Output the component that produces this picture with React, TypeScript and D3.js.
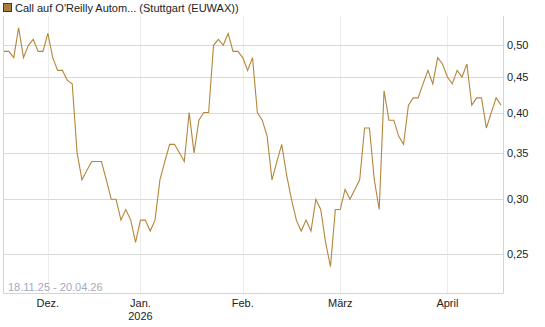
import React, { useEffect, useRef } from 'react';
import * as d3 from 'd3';

const title = "Call auf O'Reilly Autom... (Stuttgart (EUWAX))";
const rangeLabel = '18.11.25 - 20.04.26';

// closing prices per trading day, split by month
const novValues = [0.49, 0.49, 0.48, 0.53, 0.48, 0.5, 0.51, 0.49, 0.49];
const decValues = [0.52, 0.48, 0.46, 0.46, 0.445, 0.44, 0.35, 0.32, 0.33, 0.34, 0.34, 0.34, 0.32, 0.3, 0.3, 0.28, 0.29, 0.28, 0.26];
const janValues = [0.28, 0.28, 0.27, 0.28, 0.32, 0.34, 0.36, 0.36, 0.35, 0.34, 0.4, 0.35, 0.39, 0.4, 0.4, 0.5, 0.51, 0.5, 0.52, 0.49, 0.49];
const febValues = [0.48, 0.46, 0.48, 0.4, 0.39, 0.37, 0.32, 0.34, 0.36, 0.325, 0.3, 0.28, 0.27, 0.28, 0.27, 0.3, 0.29, 0.26, 0.24, 0.29];
const marValues = [0.29, 0.31, 0.3, 0.31, 0.32, 0.38, 0.38, 0.32, 0.29, 0.43, 0.39, 0.39, 0.37, 0.36, 0.41, 0.42, 0.42, 0.44, 0.46, 0.44, 0.48, 0.47];
const aprValues = [0.45, 0.44, 0.46, 0.45, 0.47, 0.41, 0.42, 0.42, 0.38, 0.4, 0.42, 0.41];

const startDate = '2025-11-18';
const endDate = '2026-04-20';
const holidays = ['2025-12-24', '2025-12-25', '2025-12-26', '2025-12-31', '2026-01-01', '2026-04-03', '2026-04-06'];

const monthLabels = ['Dez.', 'Jan.', 'Feb.', 'März', 'April'];
const monthSubLabels = ['', '2026', '', '', ''];
const yTicks = [0.25, 0.3, 0.35, 0.4, 0.45, 0.5];

const W = 545;
const H = 327;
const FONT = '"Liberation Sans", Arial, sans-serif';

const App: React.FC = () => {
  const svgRef = useRef<SVGSVGElement>(null);

  useEffect(() => {
    if (!svgRef.current) return;
    const svg = d3.select(svgRef.current);
    svg.selectAll('*').remove();

    const values = [...novValues, ...decValues, ...janValues, ...febValues, ...marValues, ...aprValues];
    const fmt = d3.timeFormat('%Y-%m-%d');
    const dates = d3.timeDay
      .range(new Date(startDate + 'T00:00:00'), d3.timeDay.offset(new Date(endDate + 'T00:00:00'), 1))
      .filter(d => d.getDay() !== 0 && d.getDay() !== 6 && !holidays.includes(fmt(d)));
    const data = values.map((v, i) => ({ date: dates[i], value: v }));

    const left = 3;
    const right = 503;
    const top = 16;
    const bottom = 293.5;

    const x = d3.scaleLinear().domain([0, data.length - 1]).range([4, 501]);
    const y = d3.scaleLog().domain([0.2195, 0.551]).range([bottom, top]);

    // first trading day index of each month (Dec..Apr)
    const monthStarts: number[] = [];
    data.forEach((d, i) => {
      if (i > 0 && d.date.getMonth() !== data[i - 1].date.getMonth()) monthStarts.push(i);
    });

    // vertical month grid
    svg.append('g')
      .selectAll('line')
      .data(monthStarts)
      .enter()
      .append('line')
      .attr('x1', d => Math.round(x(d)) + 0.5)
      .attr('x2', d => Math.round(x(d)) + 0.5)
      .attr('y1', top)
      .attr('y2', bottom)
      .attr('stroke', '#ececec');

    // horizontal grid
    svg.append('g')
      .selectAll('line')
      .data(yTicks)
      .enter()
      .append('line')
      .attr('x1', left)
      .attr('x2', right)
      .attr('y1', d => Math.round(y(d)) + 0.5)
      .attr('y2', d => Math.round(y(d)) + 0.5)
      .attr('stroke', '#d9d9d9');

    // frame: left, bottom, right
    svg.append('path')
      .attr('d', `M${left + 0.5},${top}V${bottom}H${right + 0.5}V${top}`)
      .attr('fill', 'none')
      .attr('stroke', '#d4d4d4');

    // y labels
    svg.append('g')
      .selectAll('text')
      .data(yTicks)
      .enter()
      .append('text')
      .attr('x', 507)
      .attr('y', d => y(d) + 4)
      .attr('font-family', FONT)
      .attr('font-size', 11)
      .attr('fill', '#222')
      .text(d => d3.format('.2f')(d).replace('.', ','));

    // x labels
    const xl = svg.append('g');
    monthStarts.forEach((m, i) => {
      xl.append('text')
        .attr('x', x(m))
        .attr('y', 307)
        .attr('text-anchor', 'middle')
        .attr('font-family', FONT)
        .attr('font-size', 11)
        .attr('fill', '#222')
        .text(monthLabels[i]);
      if (monthSubLabels[i]) {
        xl.append('text')
          .attr('x', x(m))
          .attr('y', 320)
          .attr('text-anchor', 'middle')
          .attr('font-family', FONT)
          .attr('font-size', 11)
          .attr('fill', '#222')
          .text(monthSubLabels[i]);
      }
    });

    // date range
    svg.append('text')
      .attr('x', 8)
      .attr('y', 291)
      .attr('font-family', FONT)
      .attr('font-size', 11)
      .attr('fill', '#a3aabb')
      .text(rangeLabel);

    // price line
    const line = d3.line<{ date: Date; value: number }>()
      .x((_, i) => x(i))
      .y(d => y(d.value));

    svg.append('path')
      .datum(data)
      .attr('d', line)
      .attr('fill', 'none')
      .attr('stroke', '#b5853a')
      .attr('stroke-width', 1.1);

    // title with legend box
    svg.append('rect')
      .attr('x', 3.5)
      .attr('y', 3.5)
      .attr('width', 8)
      .attr('height', 8)
      .attr('fill', '#a97d3f')
      .attr('stroke', '#3a3a3a');

    svg.append('text')
      .attr('x', 15)
      .attr('y', 11.5)
      .attr('font-family', FONT)
      .attr('font-size', 11)
      .attr('fill', '#222')
      .text(title);
  }, []);

  return (
    <svg
      ref={svgRef}
      width={W}
      height={H}
      style={{ position: 'absolute', left: 0, top: 0, background: '#fff' }}
    />
  );
};

export default App;
